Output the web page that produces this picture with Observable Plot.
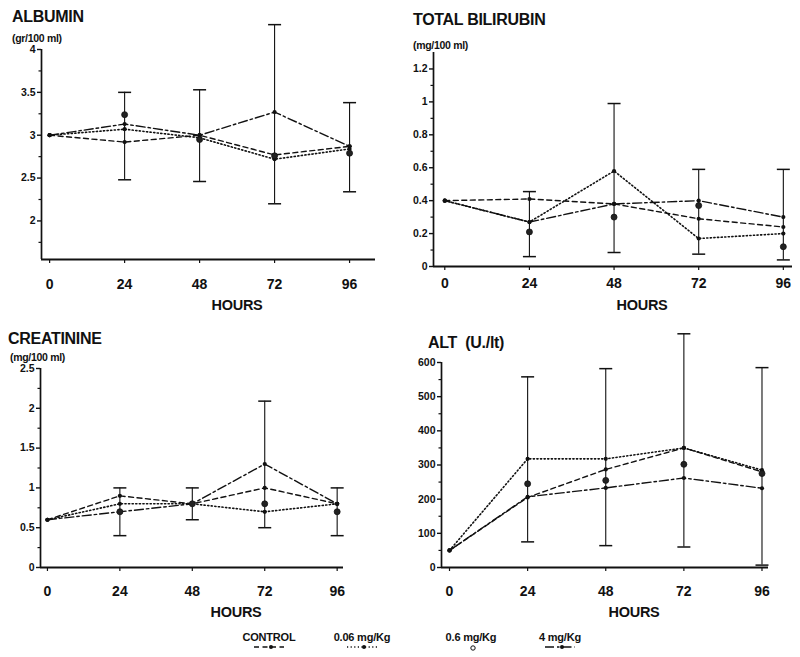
<!DOCTYPE html>
<html><head><meta charset="utf-8">
<script src="https://cdn.jsdelivr.net/npm/d3@7"></script>
<script src="https://cdn.jsdelivr.net/npm/@observablehq/plot@0.6"></script>
<style>
body{margin:0;background:#fff;}
#page{position:relative;width:800px;height:657px;overflow:hidden;font-family:"Liberation Sans",Arial,sans-serif;font-weight:bold;color:#111;background:#fff;}
.abs{position:absolute;white-space:pre;line-height:1;transform:translateY(-50%);}
.ctr{transform:translate(-50%,-50%);}
.panel{position:absolute;}
.title{font-size:16px;letter-spacing:-0.3px;}
.unit{font-size:10.5px;letter-spacing:-0.3px;}
.hours{font-size:14.5px;letter-spacing:-0.3px;}
.leg{font-size:11px;letter-spacing:-0.2px;}
</style></head><body><div id="page"></div>
<script>
// ---------- data ----------
const hours = [0, 24, 48, 72, 96];
const hourTicks = [0, 24, 48, 72, 96];
const groups = ["CONTROL", "0.06 mg/Kg", "0.6 mg/Kg", "4 mg/Kg"];

// Albumin (gr/100 ml)
const albuminControl = [3.0, 2.92, 3.0, 2.77, 2.87];
const albumin006 = [3.0, 3.07, 2.97, 2.72, 2.84];
const albumin06 = [null, 3.24, 2.95, 2.76, 2.79];
const albumin4 = [3.0, 3.13, 3.0, 3.27, 2.87];
const albuminErrHi = [null, 3.50, 3.53, 4.29, 3.38];
const albuminErrLo = [null, 2.48, 2.46, 2.20, 2.34];
const albuminTicks = [2, 2.5, 3, 3.5, 4];
const albuminMinor = [1.75, 2.25, 2.75, 3.25, 3.75];

// Total bilirubin (mg/100 ml)
const biliControl = [0.40, 0.41, 0.38, 0.29, 0.24];
const bili006 = [0.40, 0.27, 0.58, 0.17, 0.20];
const bili06 = [null, 0.21, 0.30, 0.37, 0.12];
const bili4 = [0.40, 0.27, 0.38, 0.40, 0.30];
const biliErrHi = [null, 0.455, 0.99, 0.59, 0.59];
const biliErrLo = [null, 0.06, 0.085, 0.075, 0.04];
const biliTicks = [0, 0.2, 0.4, 0.6, 0.8, 1, 1.2];
const biliMinor = [0.1, 0.3, 0.5, 0.7, 0.9, 1.1];

// Creatinine (mg/100 ml)
const creaControl = [0.6, 0.9, 0.8, 1.0, 0.8];
const crea006 = [0.6, 0.8, 0.8, 0.7, 0.8];
const crea06 = [null, 0.7, 0.8, 0.8, 0.7];
const crea4 = [0.6, 0.7, 0.8, 1.3, 0.8];
const creaErrHi = [null, 1.0, 1.0, 2.09, 1.0];
const creaErrLo = [null, 0.4, 0.6, 0.5, 0.4];
const creaTicks = [0, 0.5, 1, 1.5, 2, 2.5];
const creaMinor = [0.25, 0.75, 1.25, 1.75, 2.25];

// ALT (U./lt)
const altControl = [50, 205, 287, 350, 280];
const alt006 = [50, 318, 318, 350, 285];
const alt06 = [null, 245, 255, 302, 275];
const alt4 = [50, 207, 233, 262, 232];
const altErrHi = [null, 558, 582, 684, 585];
const altErrLo = [null, 75, 64, 60, 7];
const altTicks = [0, 100, 200, 300, 400, 500, 600];
const altMinor = [50, 150, 250, 350, 450, 550];

// ---------- styles ----------
const ink = "#111";
const lineStyle = {
  "CONTROL": {dash: "5,3.5", width: 1.4},
  "0.06 mg/Kg": {dash: "1.2,2.4", width: 1.6},
  "4 mg/Kg": {dash: "9,3,2.5,3", width: 1.4}
};
const capSymbol = {
  draw(ctx, size) {
    const r = Math.sqrt(size / Math.PI);
    ctx.moveTo(-r, 0);
    ctx.lineTo(r, 0);
  }
};
const rows = (arr) => hours.map((h, i) => ({hour: h, value: arr[i]})).filter(d => d.value != null);
const errRows = (hi, lo) => hours.map((h, i) => ({hour: h, hi: hi[i], lo: lo[i]})).filter(d => d.hi != null);

const page = document.getElementById("page");

function panel(p) {
  const series = {"CONTROL": p.control, "0.06 mg/Kg": p.s006, "4 mg/Kg": p.s4};
  const marks = [
    Plot.ruleX([p.xDomain[0]], {stroke: ink, strokeWidth: 1.7}),
    Plot.ruleY([p.yDomain[0]], {stroke: ink, strokeWidth: 1.9}),
    Plot.axisY({ticks: p.yTicks, tickSize: 4, tickPadding: 2, tickFormat: d => String(d), label: null, fontSize: 10.5, fontWeight: "bold", strokeWidth: 1.4}),
    Plot.axisY({ticks: p.yMinor, tickSize: 2.5, tickFormat: () => "", label: null, strokeWidth: 1.2}),
    Plot.axisX({ticks: hourTicks, tickSize: 4, tickPadding: p.xPad, label: null, fontSize: 14, fontWeight: "bold", strokeWidth: 1.2}),
    Plot.ruleX(errRows(p.errHi, p.errLo), {x: "hour", y1: "lo", y2: "hi", stroke: ink, strokeWidth: 1.1}),
    Plot.dot(errRows(p.errHi, p.errLo), {x: "hour", y: "hi", symbol: capSymbol, r: 6.5, stroke: ink, strokeWidth: 1.5, fill: "none"}),
    Plot.dot(errRows(p.errHi, p.errLo), {x: "hour", y: "lo", symbol: capSymbol, r: 6.5, stroke: ink, strokeWidth: 1.5, fill: "none"})
  ];
  for (const g of ["CONTROL", "0.06 mg/Kg", "4 mg/Kg"]) {
    const st = lineStyle[g];
    marks.push(Plot.line(rows(series[g]), {x: "hour", y: "value", stroke: ink, strokeWidth: st.width, strokeDasharray: st.dash}));
    marks.push(Plot.dot(rows(series[g]), {x: "hour", y: "value", r: 2.1, fill: ink}));
  }
  marks.push(Plot.dot(rows(p.s06), {x: "hour", y: "value", r: 3, fill: "#222", stroke: ink, strokeWidth: 0.8}));

  const svg = Plot.plot({
    width: p.width, height: p.height,
    marginLeft: p.m[3], marginRight: p.m[1], marginTop: p.m[0], marginBottom: p.m[2],
    x: {type: "linear", domain: p.xDomain, label: null},
    y: {type: "linear", domain: p.yDomain, label: null},
    style: {fontFamily: "'Liberation Sans', Arial, sans-serif", fontWeight: "bold", color: ink, background: "transparent", overflow: "visible"},
    marks
  });
  const wrap = document.createElement("div");
  wrap.className = "panel";
  wrap.style.left = p.left + "px";
  wrap.style.top = p.top + "px";
  wrap.appendChild(svg);
  page.appendChild(wrap);
}

function text(str, cls, x, y, center) {
  const d = document.createElement("div");
  d.className = "abs " + cls + (center ? " ctr" : "");
  d.style.left = x + "px";
  d.style.top = y + "px";
  d.textContent = str;
  page.appendChild(d);
}

panel({left: 0, top: 0, width: 400, height: 310, m: [49, 25, 51, 41],
  xDomain: [-2.6, 104.3], yDomain: [1.55, 4], yTicks: albuminTicks, yMinor: albuminMinor, xPad: 16,
  control: albuminControl, s006: albumin006, s06: albumin06, s4: albumin4, errHi: albuminErrHi, errLo: albuminErrLo});
panel({left: 400, top: 0, width: 400, height: 310, m: [52, 8, 44, 33],
  xDomain: [-3.2, 98.6], yDomain: [0, 1.3], yTicks: biliTicks, yMinor: biliMinor, xPad: 8,
  control: biliControl, s006: bili006, s06: bili06, s4: bili4, errHi: biliErrHi, errLo: biliErrLo});
panel({left: 0, top: 310, width: 400, height: 320, m: [58, 57, 63, 40],
  xDomain: [-2.3, 98.1], yDomain: [0, 2.5], yTicks: creaTicks, yMinor: creaMinor, xPad: 15,
  control: creaControl, s006: crea006, s06: crea06, s4: crea4, errHi: creaErrHi, errLo: creaErrLo});
panel({left: 400, top: 310, width: 400, height: 320, m: [52, 32, 63, 41],
  xDomain: [-2.46, 98], yDomain: [0, 600], yTicks: altTicks, yMinor: altMinor, xPad: 15,
  control: altControl, s006: alt006, s06: alt06, s4: alt4, errHi: altErrHi, errLo: altErrLo});

// titles
text("ALBUMIN", "title", 12, 17);
text("(gr/100 ml)", "unit", 12, 38);
text("TOTAL BILIRUBIN", "title", 413, 20);
text("(mg/100 ml)", "unit", 413, 45);
text("CREATININE", "title", 8, 339);
text("(mg/100 ml)", "unit", 10, 357);
text("ALT  (U./lt)", "title", 428, 343);
// x-axis titles
text("HOURS", "hours", 237, 305, true);
text("HOURS", "hours", 642, 305, true);
text("HOURS", "hours", 236, 612, true);
text("HOURS", "hours", 634, 612, true);

// legend
const legendX = [269, 362, 471, 560];
groups.forEach((g, i) => {
  text(g, "leg", legendX[i], 637, true);
  const ns = "http://www.w3.org/2000/svg";
  const s = document.createElementNS(ns, "svg");
  s.setAttribute("width", 40); s.setAttribute("height", 8);
  s.style.position = "absolute";
  s.style.left = (legendX[i] - 20) + "px";
  s.style.top = "643px";
  if (lineStyle[g]) {
    const l = document.createElementNS(ns, "line");
    l.setAttribute("x1", 5); l.setAttribute("x2", 35); l.setAttribute("y1", 4); l.setAttribute("y2", 4);
    l.setAttribute("stroke", ink); l.setAttribute("stroke-width", lineStyle[g].width);
    l.setAttribute("stroke-dasharray", lineStyle[g].dash);
    s.appendChild(l);
    const c = document.createElementNS(ns, "circle");
    c.setAttribute("cx", 22); c.setAttribute("cy", 4); c.setAttribute("r", 2); c.setAttribute("fill", ink);
    s.appendChild(c);
  } else {
    const c = document.createElementNS(ns, "circle");
    c.setAttribute("cx", 22); c.setAttribute("cy", 5); c.setAttribute("r", 2.2);
    c.setAttribute("fill", "none"); c.setAttribute("stroke", ink); c.setAttribute("stroke-width", 1);
    s.appendChild(c);
  }
  page.appendChild(s);
});
</script></body></html>
